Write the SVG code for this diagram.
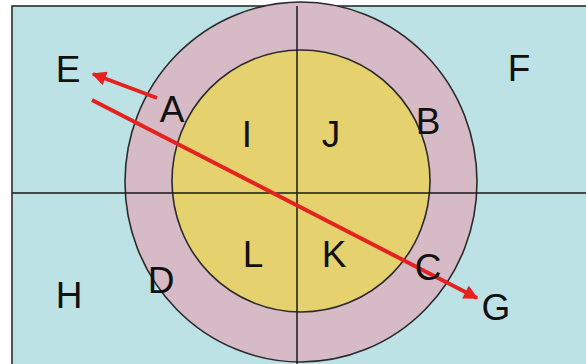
<svg xmlns="http://www.w3.org/2000/svg" width="586" height="364" viewBox="0 0 586 364">
<style>
.lbl{font-family:"Liberation Sans",Arial,sans-serif;font-size:37px;fill:#111;text-anchor:middle}
.ax{stroke:#1a1a1a;stroke-width:1.5;fill:none}
.ring{stroke:#2a2a2a;stroke-width:1.6}
.arr{stroke:#e4221f;stroke-width:4;fill:none;marker-end:url(#ah)}
</style>
<defs>
<marker id="ah" viewBox="0 0 10 10" refX="9" refY="5" markerWidth="4" markerHeight="3.6" orient="auto" markerUnits="strokeWidth">
<path d="M0,0 L10,5 L0,10 z" fill="#e4221f"/>
</marker>
</defs>
<rect x="0" y="0" width="586" height="364" fill="#ffffff"/>
<g id="background">
<rect x="12" y="6" width="580" height="364" fill="#bde2e5" stroke="#222" stroke-width="1.5"/>
</g>
<g id="outer-ring">
<ellipse cx="301" cy="182" rx="176" ry="180" fill="#d6bac6" class="ring"/>
</g>
<g id="inner-circle">
<ellipse cx="301" cy="181" rx="129" ry="131" fill="#e5d26e" class="ring"/>
</g>
<g id="axes">
<line x1="297" y1="6" x2="297" y2="364" class="ax"/>
<line x1="12" y1="193" x2="586" y2="193" class="ax"/>
</g>
<g id="connectors">
<line x1="157" y1="98" x2="93" y2="74" class="arr"/>
<line x1="92" y1="100" x2="477" y2="298" class="arr"/>
</g>
<g id="labels">
<text id="E" class="lbl" x="68" y="82">E</text>
<text id="A" class="lbl" x="172" y="122">A</text>
<text id="I" class="lbl" x="247" y="147">I</text>
<text id="J" class="lbl" x="331" y="147">J</text>
<text id="F" class="lbl" x="519" y="81">F</text>
<text id="B" class="lbl" x="428" y="134">B</text>
<text id="H" class="lbl" x="69" y="308">H</text>
<text id="D" class="lbl" x="161" y="293">D</text>
<text id="L" class="lbl" x="253" y="267">L</text>
<text id="K" class="lbl" x="334" y="267">K</text>
<text id="C" class="lbl" x="428" y="280">C</text>
<text id="G" class="lbl" x="496" y="320">G</text>
</g>
</svg>
